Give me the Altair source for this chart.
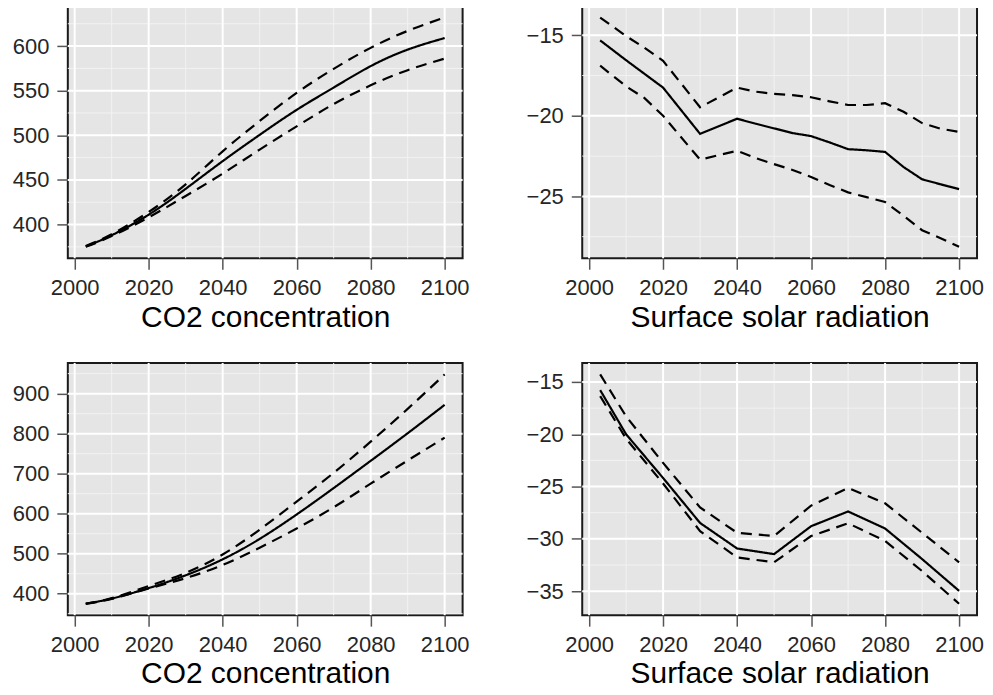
import altair as alt
import pandas as pd

# ---------------- data ----------------
years_dec = [2003, 2010, 2020, 2030, 2040, 2050, 2060, 2070, 2080, 2090, 2100]

co2_top_mean = [375.5, 388, 411, 440, 471, 500.5, 528.5, 553.5, 577.5, 596, 609]
co2_top_upper = [376, 389, 414, 445, 482, 516, 547.5, 574.5, 598, 617, 632]
co2_top_lower = [375, 387, 408, 432, 457, 484, 510, 535, 556, 573, 586]

ssr_top_years = [2003, 2010, 2015, 2020, 2030, 2040, 2045, 2050, 2055, 2060,
                 2065, 2070, 2075, 2080, 2085, 2090, 2095, 2100]
ssr_top_mean = [-15.32, -16.55, -17.4, -18.25, -21.12, -20.18, -20.49, -20.78, -21.07,
                -21.26, -21.65, -22.07, -22.14, -22.24, -23.18, -23.94, -24.25, -24.55]
ssr_top_upper = [-13.9, -15.05, -15.78, -16.59, -19.47, -18.25, -18.5, -18.64, -18.72,
                 -18.85, -19.1, -19.33, -19.33, -19.22, -19.75, -20.45, -20.8, -21.0]
ssr_top_lower = [-16.89, -18.17, -18.9, -20.0, -22.72, -22.17, -22.62, -23.0, -23.36,
                 -23.8, -24.3, -24.75, -25.05, -25.35, -26.2, -27.1, -27.6, -28.13]

co2_bot_mean = [375, 388, 414, 446, 486, 537, 598, 664, 732, 801, 872]
co2_bot_upper = [375, 389, 419, 452, 498, 560, 630, 702, 780, 862, 948]
co2_bot_lower = [375, 387, 413, 439, 472, 515, 563, 616, 675, 733, 790]

ssr_bot_mean = [-15.78, -20.0, -24.18, -28.48, -30.92, -31.46, -28.79, -27.38, -29.01, -31.93, -34.97]
ssr_bot_upper = [-14.28, -18.29, -22.74, -27.0, -29.42, -29.73, -26.82, -25.13, -26.6, -29.42, -32.24]
ssr_bot_lower = [-16.35, -20.42, -24.71, -29.26, -31.77, -32.24, -29.73, -28.51, -30.2, -33.08, -36.2]

x_major = [2000, 2020, 2040, 2060, 2080, 2100]
x_minor = [2010, 2030, 2050, 2070, 2090]

co2_top_major = [400, 450, 500, 550, 600]
co2_top_minor = [375, 425, 475, 525, 575, 625]
ssr_top_major = [-15, -20, -25]
ssr_top_minor = [-17.5, -22.5, -27.5]
co2_bot_major = [400, 500, 600, 700, 800, 900]
co2_bot_minor = [350, 450, 550, 650, 750, 850, 950]
ssr_bot_major = [-15, -20, -25, -30, -35]
ssr_bot_minor = [-17.5, -22.5, -27.5, -32.5]

title_co2 = "CO2 concentration"
title_ssr = "Surface solar radiation"

PANEL_W = 396
PANEL_H = 253
MAJOR = "#FFFFFF"
MINOR = "#F2F2F2"


def panel(years, mean, upper, lower, ymaj, ymin, title, interp):
    n = len(years)
    df = pd.DataFrame({
        "year": list(years) * 3,
        "value": list(mean) + list(upper) + list(lower),
        "series": ["mean"] * n + ["upper"] * n + ["lower"] * n,
    })
    allv = list(mean) + list(upper) + list(lower)
    lo, hi = min(allv), max(allv)
    ypad = (hi - lo) * 0.05
    x0, x1 = min(years), max(years)
    xpad = (x1 - x0) * 0.05
    xs = alt.Scale(domain=[x0 - xpad, x1 + xpad], nice=False, zero=False)
    ys = alt.Scale(domain=[lo - ypad, hi + ypad], nice=False, zero=False)
    xaxis = alt.Axis(values=x_major, title=title, grid=False, format="d")
    yaxis = alt.Axis(values=ymaj, title=None, grid=False)

    minor_x = alt.Chart(pd.DataFrame({"year": x_minor})).mark_rule(
        color=MINOR, strokeWidth=1).encode(x=alt.X("year:Q", scale=xs, axis=xaxis))
    minor_y = alt.Chart(pd.DataFrame({"value": ymin})).mark_rule(
        color=MINOR, strokeWidth=1).encode(y=alt.Y("value:Q", scale=ys, axis=yaxis))
    major_x = alt.Chart(pd.DataFrame({"year": x_major})).mark_rule(
        color=MAJOR, strokeWidth=2).encode(x=alt.X("year:Q", scale=xs, axis=xaxis))
    major_y = alt.Chart(pd.DataFrame({"value": ymaj})).mark_rule(
        color=MAJOR, strokeWidth=2).encode(y=alt.Y("value:Q", scale=ys, axis=yaxis))
    lines = alt.Chart(df).mark_line(
        color="black", strokeWidth=2.2, interpolate=interp).encode(
        x=alt.X("year:Q", scale=xs, axis=xaxis),
        y=alt.Y("value:Q", scale=ys, axis=yaxis),
        strokeDash=alt.StrokeDash(
            "series:N",
            scale=alt.Scale(domain=["mean", "upper", "lower"],
                            range=[[1, 0], [11, 7], [11, 7]]),
            legend=None),
    )
    return alt.layer(minor_x, minor_y, major_x, major_y, lines).properties(
        width=PANEL_W, height=PANEL_H)


p1 = panel(years_dec, co2_top_mean, co2_top_upper, co2_top_lower,
           co2_top_major, co2_top_minor, title_co2, "natural")
p2 = panel(ssr_top_years, ssr_top_mean, ssr_top_upper, ssr_top_lower,
           ssr_top_major, ssr_top_minor, title_ssr, "linear")
p3 = panel(years_dec, co2_bot_mean, co2_bot_upper, co2_bot_lower,
           co2_bot_major, co2_bot_minor, title_co2, "natural")
p4 = panel(years_dec, ssr_bot_mean, ssr_bot_upper, ssr_bot_lower,
           ssr_bot_major, ssr_bot_minor, title_ssr, "linear")

FONT = "Liberation Sans"

chart = alt.concat(
    p1, p2, p3, p4, columns=2,
    spacing=alt.RowColnumber(row=105, column=120),
    bounds="flush",
).properties(
    padding={"left": 3, "top": -5, "right": 0, "bottom": 0},
    background="white",
).configure_view(
    fill="#E5E5E5", stroke="#1A1A1A", strokeWidth=2,
).configure_axis(
    domain=False,
    ticks=True,
    tickColor="#555555",
    tickWidth=1.5,
    tickSize=11,
    labelFont=FONT,
    labelFontSize=22,
    labelColor="#262626",
    labelPadding=8,
    labelFlush=False,
    titleFont=FONT,
    titleFontSize=30,
    titleFontWeight="normal",
    titleColor="black",
    titlePadding=4,
)

chart.save("out.html", embed_options={"renderer": "svg", "actions": False})
